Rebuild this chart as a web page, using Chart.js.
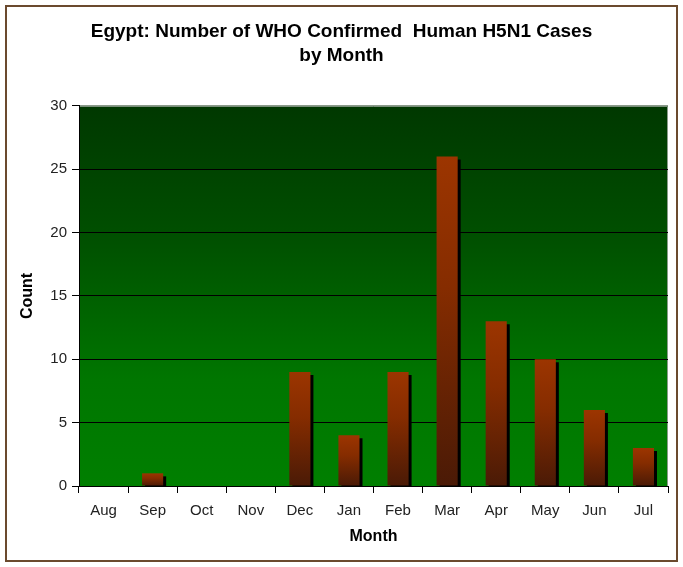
<!DOCTYPE html>
<html>
<head>
<meta charset="utf-8">
<script src="https://cdn.jsdelivr.net/npm/chart.js@4.4.1/dist/chart.umd.min.js"></script>
<style>
  html, body { margin: 0; padding: 0; background: #fff; }
  #wrap { width: 683px; height: 567px; }
</style>
</head>
<body>
<div id="wrap"><canvas id="myChart" width="683" height="567"></canvas></div>
<script>
// data
var months = ['Aug', 'Sep', 'Oct', 'Nov', 'Dec', 'Jan', 'Feb', 'Mar', 'Apr', 'May', 'Jun', 'Jul'];
var cases = [0, 1, 0, 0, 9, 4, 9, 26, 13, 10, 6, 3];
var yTicks = [0, 5, 10, 15, 20, 25, 30];

var FONT = "'Liberation Sans', Arial, sans-serif";

// green plot background + frame round the figure
var backdrop = {
    id: 'backdrop',
    beforeDraw: function(chart) {
        var ctx = chart.ctx, a = chart.chartArea;
        if (!a) return;
        ctx.save();
        ctx.fillStyle = '#fff';
        ctx.fillRect(0, 0, chart.width, chart.height);
        ctx.strokeStyle = '#6b4a2e';
        ctx.lineWidth = 2;
        ctx.strokeRect(6, 6, chart.width - 12, chart.height - 12);
        var g = ctx.createLinearGradient(0, a.top, 0, a.bottom);
        g.addColorStop(0, '#003800');
        g.addColorStop(0.35, '#005000');
        g.addColorStop(0.72, '#007600');
        g.addColorStop(1, '#007f00');
        ctx.fillStyle = g;
        ctx.fillRect(a.left, a.top, a.right - a.left, a.bottom - a.top);
        ctx.strokeStyle = '#8a9a8a';
        ctx.lineWidth = 1;
        ctx.beginPath();
        ctx.moveTo(a.left, a.top + 0.5);
        ctx.lineTo(a.right - 0.5, a.top + 0.5);
        ctx.lineTo(a.right - 0.5, a.bottom);
        ctx.stroke();
        ctx.restore();
    },
    beforeDatasetsDraw: function(chart) {
        var ctx = chart.ctx;
        ctx.save();
        ctx.shadowColor = '#000';
        ctx.shadowOffsetX = 3;
        ctx.shadowOffsetY = 3;
        ctx.shadowBlur = 0;
    },
    afterDatasetsDraw: function(chart) {
        chart.ctx.restore();
    }
};

function barFill(context) {
    var chart = context.chart;
    var y = chart.scales.y;
    if (!y || !chart.chartArea || typeof context.raw !== 'number') return '#993300';
    var top = y.getPixelForValue(context.raw);
    var bottom = y.getPixelForValue(0);
    if (!isFinite(top) || !isFinite(bottom) || bottom - top < 1) return '#993300';
    var g = chart.ctx.createLinearGradient(0, top, 0, bottom);
    g.addColorStop(0, '#9c3500');
    g.addColorStop(0.4, '#852c00');
    g.addColorStop(1, '#4a1a06');
    return g;
}

var ctx = document.getElementById('myChart').getContext('2d');
var chart = new Chart(ctx, {
    type: 'bar',
    data: {
        labels: months,
        datasets: [{
            label: 'Count',
            data: cases,
            backgroundColor: barFill,
            borderWidth: 0,
            barPercentage: 0.43,
            categoryPercentage: 1
        }]
    },
    options: {
        responsive: false,
        animation: false,
        layout: { padding: { left: 0, right: 0, top: 0, bottom: 0 } },
        plugins: {
            legend: { display: false },
            tooltip: { enabled: false },
            title: {
                display: true,
                text: ['Egypt: Number of WHO Confirmed  Human H5N1 Cases', 'by Month'],
                color: '#000',
                font: { family: FONT, size: 19, weight: 'bold', lineHeight: 1.26 },
                padding: { top: 20, bottom: 38 }
            }
        },
        scales: {
            x: {
                grid: { offset: true, drawOnChartArea: false, drawTicks: true, tickLength: 7, color: '#000' },
                border: { color: '#000' },
                ticks: { color: '#222', font: { family: FONT, size: 15 }, padding: 9, maxRotation: 0, autoSkip: false },
                title: { display: true, text: 'Month', color: '#000', font: { family: FONT, size: 16, weight: 'bold' }, padding: { top: 4, bottom: 21 } },
                afterFit: function(scale) { scale.height = 81; }
            },
            y: {
                min: 0,
                max: 30,
                afterBuildTicks: function(scale) {
                    scale.ticks = yTicks.map(function(v) { return { value: v }; });
                },
                grid: {
                    color: function(c) { return c.tick && c.tick.value === 30 ? '#8a9a8a' : '#000'; },
                    tickColor: '#000',
                    tickLength: 7,
                    lineWidth: 1
                },
                border: { color: '#000' },
                ticks: { color: '#222', font: { family: FONT, size: 15 }, padding: 5 },
                title: { display: true, text: 'Count', color: '#000', font: { family: FONT, size: 16, weight: 'bold' }, padding: { top: 18, bottom: 0 } },
                afterFit: function(scale) { scale.width = 79; }
            },
            // empty right-hand margin so the title centres on the whole figure
            margin: {
                type: 'linear',
                position: 'right',
                display: true,
                grid: { display: false },
                border: { display: false },
                ticks: { display: false },
                afterFit: function(scale) { scale.width = 15; }
            }
        }
    },
    plugins: [backdrop]
});
</script>
</body>
</html>
